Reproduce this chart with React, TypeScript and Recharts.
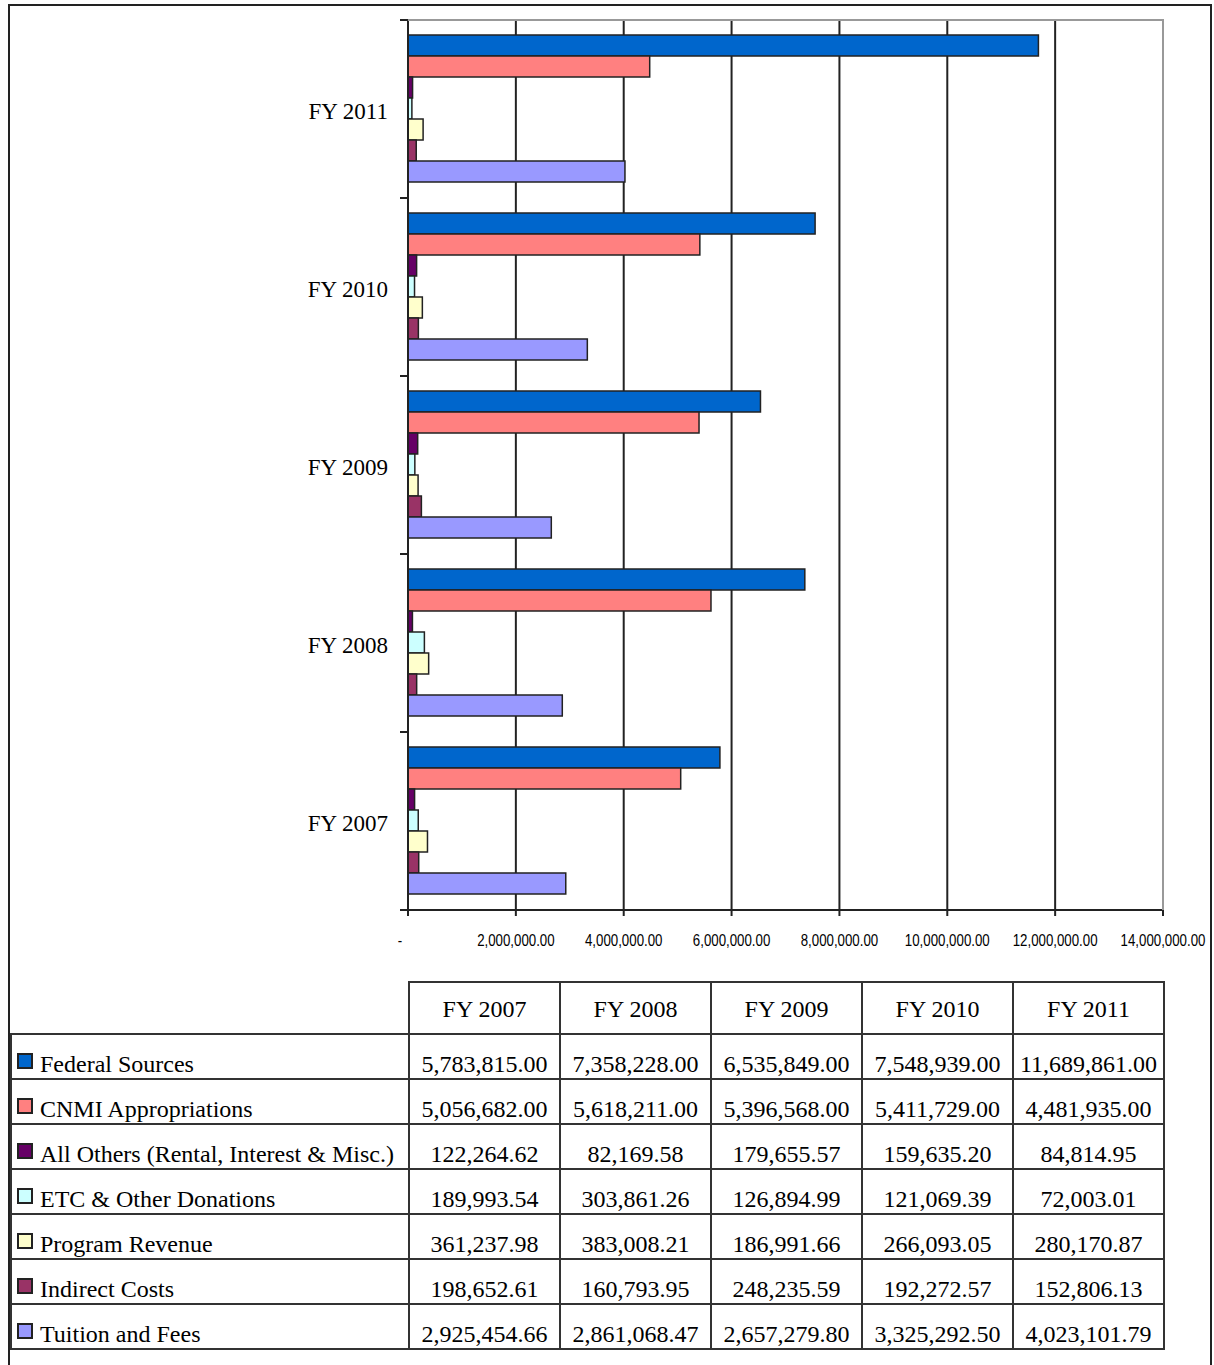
import { BarChart, Bar, XAxis, YAxis, CartesianGrid } from "recharts";

// Revenue by source, FY 2007 - FY 2011
const years = ["FY 2007", "FY 2008", "FY 2009", "FY 2010", "FY 2011"];

const federalSources = [5783815.0, 7358228.0, 6535849.0, 7548939.0, 11689861.0];
const cnmiAppropriations = [5056682.0, 5618211.0, 5396568.0, 5411729.0, 4481935.0];
const allOthers = [122264.62, 82169.58, 179655.57, 159635.2, 84814.95];
const etcDonations = [189993.54, 303861.26, 126894.99, 121069.39, 72003.01];
const programRevenue = [361237.98, 383008.21, 186991.66, 266093.05, 280170.87];
const indirectCosts = [198652.61, 160793.95, 248235.59, 192272.57, 152806.13];
const tuitionFees = [2925454.66, 2861068.47, 2657279.8, 3325292.5, 4023101.79];

const xTicks = [0, 2000000, 4000000, 6000000, 8000000, 10000000, 12000000, 14000000];

const series = [
  { key: "federal", name: "Federal Sources", color: "#0066CC", values: federalSources },
  { key: "cnmi", name: "CNMI Appropriations", color: "#FF8080", values: cnmiAppropriations },
  { key: "others", name: "All Others (Rental, Interest & Misc.)", color: "#660066", values: allOthers },
  { key: "etc", name: "ETC & Other Donations", color: "#CCFFFF", values: etcDonations },
  { key: "program", name: "Program Revenue", color: "#FFFFCC", values: programRevenue },
  { key: "indirect", name: "Indirect Costs", color: "#993366", values: indirectCosts },
  { key: "tuition", name: "Tuition and Fees", color: "#9999FF", values: tuitionFees },
];

const rows = years.map((year, i) => {
  const row: Record<string, string | number> = { year };
  series.forEach((s) => {
    row[s.key] = s.values[i];
  });
  return row;
});

const SERIF = '"Liberation Serif", "Times New Roman", serif';
const SANS = '"Liberation Sans", Arial, sans-serif';
const LINE = "#222";

const fmtMoney = (v: number) =>
  v.toLocaleString("en-US", { minimumFractionDigits: 2, maximumFractionDigits: 2 });

const PLOT_HEIGHT = 890;

function YearTick(props: any) {
  const { x, y, payload } = props;
  const half = payload.offset > 0 ? payload.offset : PLOT_HEIGHT / years.length / 2;
  return (
    <g>
      <line x1={x + 12} x2={x + 20} y1={y - half} y2={y - half} stroke={LINE} strokeWidth={2} />
      <line x1={x + 12} x2={x + 20} y1={y + half} y2={y + half} stroke={LINE} strokeWidth={2} />
      <text x={x} y={y} dy={10} textAnchor="end" fontSize={23} fontFamily={SERIF} fill="#000">
        {payload.value}
      </text>
    </g>
  );
}

// condensed sans labels under the value axis
function AmountTick(props: any) {
  const { x, y, payload } = props;
  const zero = payload.value === 0;
  return (
    <g transform={`translate(${zero ? x - 8 : x},${y + 26}) scale(0.83,1)`}>
      <text x={0} y={0} textAnchor="middle" fontSize={16} fontFamily={SANS} fill="#000">
        {zero ? "-" : fmtMoney(payload.value)}
      </text>
    </g>
  );
}

function DataTable() {
  const border = `2px solid #333`;
  return (
    <table
      style={{
        position: "absolute",
        left: 10,
        top: 981,
        borderCollapse: "collapse",
        tableLayout: "fixed",
        width: 1153,
        fontFamily: SERIF,
        fontSize: 24,
        lineHeight: "24px",
        color: "#000",
      }}
    >
      <colgroup>
        <col style={{ width: 398 }} />
        {years.map((y) => (
          <col key={y} style={{ width: 151 }} />
        ))}
      </colgroup>
      <thead>
        <tr style={{ height: 52 }}>
          <th style={{ border: "none", borderBottom: border, padding: 0 }} />
          {years.map((y) => (
            <th
              key={y}
              style={{ border, fontWeight: "normal", padding: "2px 0 0 0", textAlign: "center" }}
            >
              {y}
            </th>
          ))}
        </tr>
      </thead>
      <tbody>
        {series.map((s) => (
          <tr key={s.key} style={{ height: 45 }}>
            <td
              style={{
                border,
                padding: "0 0 2px 5px",
                verticalAlign: "bottom",
                whiteSpace: "nowrap",
                textAlign: "left",
              }}
            >
              <span
                style={{
                  display: "inline-block",
                  width: 16,
                  height: 16,
                  boxSizing: "border-box",
                  border: `2px solid ${LINE}`,
                  background: s.color,
                  marginRight: 7,
                  position: "relative",
                  top: -3,
                }}
              />
              {s.name}
            </td>
            {s.values.map((v, i) => (
              <td
                key={i}
                style={{
                  border,
                  padding: "0 0 2px 0",
                  verticalAlign: "bottom",
                  textAlign: "center",
                  whiteSpace: "nowrap",
                }}
              >
                {fmtMoney(v)}
              </td>
            ))}
          </tr>
        ))}
      </tbody>
    </table>
  );
}

export default function App() {
  return (
    <div style={{ position: "relative", width: 1214, height: 1365, overflow: "hidden", background: "#fff" }}>
      <style>{`body{margin:0}`}</style>
      <div style={{ position: "absolute", left: 0, top: 0 }}>
        <BarChart
          layout="vertical"
          width={1214}
          height={970}
          data={rows}
          margin={{ top: 20, right: 51, bottom: 10, left: 308 }}
          barCategoryGap={15}
          barGap={0}
        >
          <CartesianGrid horizontal={false} stroke={LINE} strokeWidth={2} />
          <XAxis
            type="number"
            domain={[0, 14000000]}
            ticks={xTicks}
            height={50}
            interval={0}
            axisLine={{ stroke: LINE, strokeWidth: 2 }}
            tickLine={{ stroke: LINE, strokeWidth: 2 }}
            tickSize={6}
            tickMargin={4}
            tick={<AmountTick />}
          />
          <YAxis
            type="category"
            dataKey="year"
            reversed
            width={100}
            axisLine={{ stroke: LINE, strokeWidth: 2 }}
            tickLine={false}
            tickSize={8}
            tickMargin={12}
            tick={<YearTick />}
          />
          {series.map((s) => (
            <Bar
              key={s.key}
              dataKey={s.key}
              name={s.name}
              fill={s.color}
              stroke={LINE}
              strokeWidth={1.5}
              isAnimationActive={false}
            />
          ))}
        </BarChart>
      </div>
      {/* plot area frame: grey top and right edges */}
      <div
        style={{
          position: "absolute",
          left: 408,
          top: 19,
          width: 756,
          height: 891,
          boxSizing: "border-box",
          borderTop: "2px solid #999",
          borderRight: "2px solid #999",
          pointerEvents: "none",
        }}
      />
      <DataTable />
      {/* outer frame */}
      <div
        style={{
          position: "absolute",
          left: 8,
          top: 4,
          width: 1204,
          height: 1400,
          boxSizing: "border-box",
          border: `2px solid ${LINE}`,
          pointerEvents: "none",
        }}
      />
    </div>
  );
}
